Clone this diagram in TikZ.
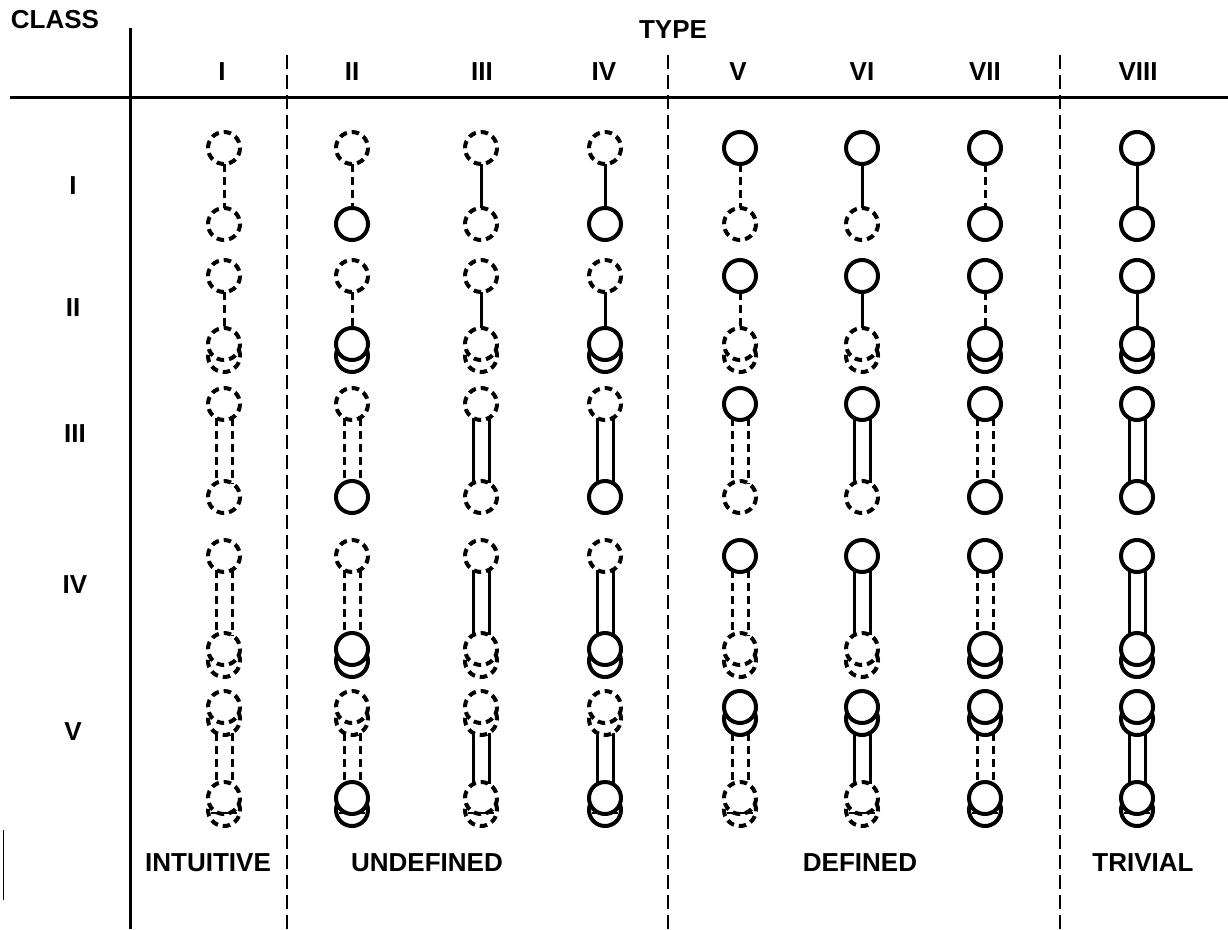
\documentclass[tikz,border=0pt]{standalone}
\usepackage{fontspec}
\setmainfont{Liberation Sans}
\begin{document}
% geometry of one symbol: circle radius, offset of the stacked circle,
% half distance of the paired links and where they meet a circle
\def\R{16}
\def\D{12}
\def\G{8}
\def\H{13.86}
% a single circle and a stacked (double) circle
\newcommand\onering[3]{\draw[#3] (#1,#2) circle[radius=\R];}
\newcommand\tworing[3]{%
  \draw[#3] (#1,#2) circle[radius=\R];
  \draw[#3] ([shift={(-22:\R)}]#1,#2+\D) arc[start angle=-22,end angle=202,radius=\R];}
% one type column: x, top part style, link style, bottom part style
\newcommand\glyphcolumn[4]{%
  % class I
  \onering{#1}{148}{#2}
  \draw[#3] (#1,148+\R) -- (#1,224-\R);
  \onering{#1}{224}{#4}
  % class II
  \onering{#1}{276}{#2}
  \draw[#3] (#1,276+\R) -- (#1,344-\R);
  \tworing{#1}{344}{#4}
  % class III
  \onering{#1}{404}{#2}
  \draw[#3] (#1-\G,404+\H) -- (#1-\G,497-\H) (#1+\G,404+\H) -- (#1+\G,497-\H);
  \onering{#1}{497}{#4}
  % class IV
  \onering{#1}{556}{#2}
  \draw[#3] (#1-\G,556+\H) -- (#1-\G,649-\H) (#1+\G,556+\H) -- (#1+\G,649-\H);
  \tworing{#1}{649}{#4}
  % class V
  \tworing{#1}{707}{#2}
  \draw[#3] (#1-\G,719+\H) -- (#1-\G,798-\H) (#1+\G,719+\H) -- (#1+\G,798-\H);
  \tworing{#1}{798}{#4}
  \draw[hairline] (#1-13,813) -- (#1+13,813);}
\begin{tikzpicture}[x=1pt,y=-1pt,
  solidpart/.style={line width=4pt},
  dashpart/.style={line width=4pt,dash pattern=on 7.5pt off 5pt},
  solidlink/.style={line width=3pt},
  dashlink/.style={line width=3pt,dash pattern=on 8pt off 5pt},
  hairline/.style={line width=1.1pt},
  rule/.style={line width=3pt},
  divider/.style={line width=2.4pt,dash pattern=on 14pt off 6pt},
  head/.style={font=\bfseries\fontsize{26}{26}\selectfont,inner sep=0pt},
  numeral/.style={font=\bfseries\fontsize{26}{26}\selectfont,inner sep=0pt}]
\useasboundingbox (0,0) rectangle (1228,929);

% frame of the table
\coordinate (vtop) at (130,28);
\coordinate (vbot) at (130,929);
\coordinate (hl) at (10,97);
\coordinate (hr) at (1228,97);
\draw[rule] (vtop) -- (vbot);
\draw[rule] (hl) -- (hr);
\foreach \x/\n in {287/a,668/b,1060/c}{
  \coordinate (d\n top) at (\x,55);
  \coordinate (d\n bot) at (\x,929);
  \draw[divider] (d\n top) -- (d\n bot);
}
\coordinate (marktop) at (3,830);
\coordinate (markbot) at (3,900);
\draw[line width=1pt] (marktop) -- (markbot);

% headings
\node[head] (class) at (55,20) {CLASS};
\node[head] (type) at (673,30) {TYPE};
\node[numeral] (t1) at (222,72) {I};
\node[numeral] (t2) at (352,72) {II};
\node[numeral] (t3) at (482,72) {III};
\node[numeral] (t4) at (604,72) {IV};
\node[numeral] (t5) at (738,72) {V};
\node[numeral] (t6) at (862,72) {VI};
\node[numeral] (t7) at (985,72) {VII};
\node[numeral] (t8) at (1138,72) {VIII};

\node[numeral] (c1) at (73,186) {I};
\node[numeral] (c2) at (73,308) {II};
\node[numeral] (c3) at (75,434) {III};
\node[numeral] (c4) at (75,585) {IV};
\node[numeral] (c5) at (73,732) {V};

\node[head] (g1) at (208,863) {INTUITIVE};
\node[head] (g2) at (427,863) {UNDEFINED};
\node[head] (g3) at (860,863) {DEFINED};
\node[head] (g4) at (1143,863) {TRIVIAL};

% symbols, one column per type
\glyphcolumn{224}{dashpart}{dashlink}{dashpart}
\glyphcolumn{352}{dashpart}{dashlink}{solidpart}
\glyphcolumn{481}{dashpart}{solidlink}{dashpart}
\glyphcolumn{605}{dashpart}{solidlink}{solidpart}
\glyphcolumn{740}{solidpart}{dashlink}{dashpart}
\glyphcolumn{862}{solidpart}{solidlink}{dashpart}
\glyphcolumn{985}{solidpart}{dashlink}{solidpart}
\glyphcolumn{1137}{solidpart}{solidlink}{solidpart}
\end{tikzpicture}
\end{document}
